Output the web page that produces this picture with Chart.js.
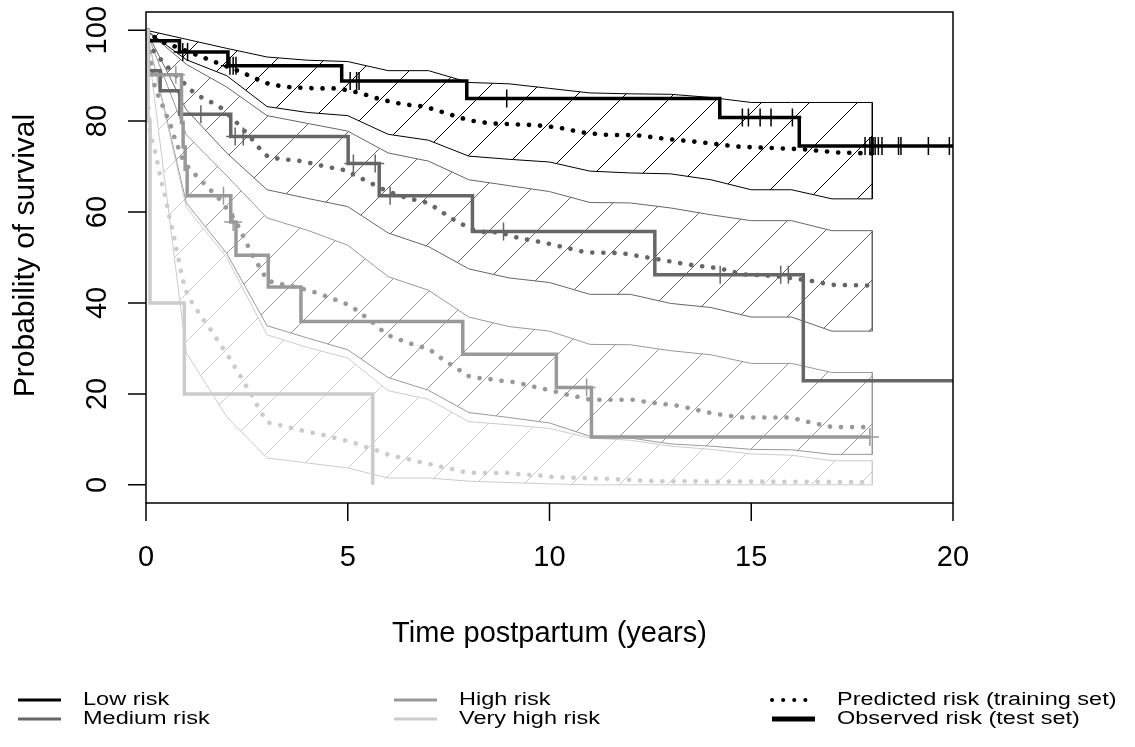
<!DOCTYPE html>
<html><head><meta charset="utf-8">
<script src="https://cdn.jsdelivr.net/npm/chart.js@4.4.1/dist/chart.umd.min.js"></script>
<style>html,body{margin:0;padding:0;background:#fff;}canvas{display:block;}</style>
</head><body>
<canvas id="c" width="1135" height="747"></canvas>
<script>
// ---------- tick labels / titles ----------
const xTicks = [0, 5, 10, 15, 20];
const yTicks = [0, 20, 40, 60, 80, 100];
const xTitle = 'Time postpartum (years)';
const yTitle = 'Probability of survival';
const groupNames = ['Low risk', 'Medium risk', 'High risk', 'Very high risk'];
const typeNames = ['Predicted risk (training set)', 'Observed risk (test set)'];

// ---------- confidence bands (training set) ----------
const bandTimes = [0,1,2,3,4,5,6,7,8,9,10,11,12,13,14,15,16,17,18];
const lowUpper  = [100,98,96,94.1,93.4,93.1,91.1,91.1,88.5,88.2,87.2,86.2,86.0,85.9,85.2,84.1,84.1,84.1,84.1];
const lowLower  = [100,93.5,90,83.2,81.9,81.2,77.1,75.8,72.3,71.6,71.0,69.0,68.6,68.4,67.1,64.9,64.9,62.9,62.9];
const medUpper  = [100,92.5,87.5,81.2,79.5,77.8,73.0,71.2,67.1,65.8,64.5,62.1,62.0,60.9,59.4,58.1,58.1,55.9,55.9];
const medLower  = [100,82.5,73,64.9,63.0,61.2,55.4,52.4,47.5,45.5,44.5,41.9,41.9,39.9,39.0,36.9,36.9,33.8,33.8];
const highUpper = [100,77,68,58.7,56,52.7,45.8,42.8,36.9,34.8,33.8,30.9,30.8,29.5,28.6,26.7,26.7,24.7,24.7];
const highLower = [100,62,50.9,35,32.3,29.7,23.6,20.8,15.9,14.8,13.6,10.7,10.3,9.0,8.5,7.8,7.7,6.7,6.7];
const vhUpper   = [100,61,50,33,30.2,27.9,20.7,18.8,13.9,13.2,12.4,10.3,9.8,8.5,7.8,6.8,6.5,5.3,5.3];
const vhLower   = [100,29,15,5.9,4.8,3.7,1.5,1.5,0.8,0.5,0.2,0,0,0,0,0,0,0,0];

// ---------- predicted survival (training set) [time, %] ----------
const lowPred = [[0,100],[0.26,98.1],[0.51,97.0],[0.76,96.3],[1.3,94.4],[1.83,92.6],[2.33,90.9],[2.83,88.9],[3.11,88.0],[3.65,87.4],[4.23,87.2],[4.77,87.2],[5.3,86.2],[5.84,84.7],[6.38,83.7],[6.91,83.2],[7.45,81.7],[7.99,80.2],[8.53,79.5],[9.1,79.3],[9.68,79.1],[10.22,78.6],[10.76,77.6],[11.33,77.0],[12.16,76.9],[12.99,76.0],[13.81,75.3],[14.64,74.4],[15.46,74.1],[16.29,73.8],[17.12,73.1],[18,72.9]];
const medPred = [[0,100],[0.18,95.5],[0.39,93.3],[0.58,91.5],[1.13,86.7],[1.38,85.2],[1.63,84.1],[1.88,82.8],[2.29,79.3],[2.67,75.6],[2.83,73.8],[3.03,72.1],[3.32,71.7],[3.86,71.2],[4.40,70.1],[4.93,69.2],[5.47,66.8],[5.97,64.6],[6.46,63.1],[7.0,62.0],[7.25,60.5],[7.70,57.9],[8.2,55.7],[8.77,55.5],[9.27,54.2],[9.85,53.3],[10.38,52.2],[10.92,51.1],[11.75,51.0],[12.57,49.8],[13.4,48.5],[14.22,47.6],[14.8,46.3],[15.63,45.9],[16.46,44.9],[16.99,44.0],[18,43.8]];
const highPred = [[0,100],[0.22,87.4],[0.43,83.0],[0.63,78.6],[0.72,76.0],[0.93,71.2],[1.09,69.4],[1.30,67.5],[1.49,65.8],[1.67,64.2],[1.88,62.3],[2.02,60.5],[2.21,58.3],[2.45,53.9],[2.70,49.4],[2.87,47.2],[2.99,45.0],[3.24,44.3],[3.53,43.9],[4.06,42.7],[4.34,41.9],[4.60,41.0],[4.87,40.2],[5.11,39.1],[5.33,37.7],[5.55,36.2],[5.76,34.6],[5.98,33.0],[6.24,32.1],[6.5,31.2],[6.78,30.5],[7.04,29.7],[7.26,28.2],[7.49,26.8],[7.73,25.5],[7.95,24.0],[8.22,23.5],[8.5,23.3],[8.77,22.9],[9.05,22.7],[9.33,22.2],[9.6,21.6],[9.86,21.1],[10.14,20.5],[10.41,19.9],[10.67,19.4],[10.96,18.8],[11.23,18.7],[12.08,18.7],[12.35,18.3],[12.62,18.0],[12.9,17.7],[13.18,17.4],[13.45,16.9],[13.73,16.3],[14.0,15.8],[14.27,15.4],[14.54,15.1],[14.82,14.8],[15.94,14.8],[16.21,14.3],[16.47,13.7],[16.74,13.2],[17.01,12.7],[18,12.7]];
const vhPred = [[0,100],[0.03,90],[0.06,83],[0.1,77.1],[0.18,74.9],[0.25,72.5],[0.30,70.1],[0.36,67.5],[0.43,64.9],[0.50,62.7],[0.55,60.1],[0.61,57.7],[0.68,55.4],[0.73,52.8],[0.8,50.0],[0.84,48.1],[0.90,45.6],[0.97,43.2],[1.07,41.0],[1.23,38.9],[1.38,36.8],[1.55,34.8],[1.71,32.7],[1.86,30.6],[2.02,28.6],[2.17,26.4],[2.32,24.2],[2.45,22.2],[2.60,20.1],[2.73,17.9],[2.87,15.7],[3.02,13.7],[3.28,13.2],[3.56,12.6],[3.84,12.0],[4.11,11.5],[4.38,11.0],[4.64,10.4],[4.92,9.8],[5.2,9.1],[5.45,8.3],[5.72,7.6],[5.98,6.7],[6.25,6.1],[6.53,5.6],[6.79,5.0],[7.06,4.5],[7.34,3.9],[7.62,3.4],[7.89,2.8],[8.17,2.6],[9.0,2.6],[9.27,2.3],[9.82,2.0],[10.1,1.7],[11.5,1.3],[12.6,0.8],[18,0.6]];

// ---------- observed Kaplan-Meier (test set) ----------
const lowObsT  = [0, 0.05, 0.83, 2.03, 4.85, 7.95, 14.22, 16.19, 20];
const lowObsV  = [100, 97.7, 95.2, 92.2, 88.8, 85.0, 80.8, 74.5, 74.5];
const medObsT  = [0, 0.05, 0.35, 0.84, 2.10, 5.01, 5.78, 8.09, 12.61, 16.29, 20];
const medObsV  = [100, 91.1, 86.7, 81.5, 76.6, 70.7, 63.6, 55.7, 46.2, 22.9, 22.9];
const highObsT = [0, 0.05, 0.88, 0.92, 0.97, 1.02, 2.10, 2.23, 3.03, 3.84, 7.85, 10.17, 11.04, 17.94];
const highObsV = [100, 90.2, 79.7, 74.3, 69.4, 63.6, 57.8, 50.5, 43.5, 35.9, 28.7, 21.4, 10.5, 10.5];
const vhObsT   = [0, 0.05, 0.1, 0.95, 5.62];
const vhObsV   = [100, 80, 40, 20, 0];

// ---------- censored observations ----------
const lowCensT  = [0.91,1.03,2.08,2.16,2.23,5.06,5.22,5.28,8.94,14.78,14.93,15.22,15.49,16.02,17.82,17.94,17.98,18.02,18.07,18.15,18.24,18.65,18.71,19.39,19.91];
const lowCensV  = [95.2,95.2,92.2,92.2,92.2,88.8,88.8,88.8,85.0,80.8,80.8,80.8,80.8,80.8,74.5,74.5,74.5,74.5,74.5,74.5,74.5,74.5,74.5,74.5,74.5];
const medCensT  = [1.36,2.21,2.41,5.14,5.68,6.05,8.86,14.23,15.73,15.92];
const medCensV  = [81.5,76.6,76.6,70.7,70.7,63.6,55.7,46.2,46.2,46.2];
const highCensT = [0.74,1.92,2.16,10.92,17.94];
const highCensV = [90.2,63.6,57.8,21.4,10.5];

const colors = ['#000000', '#666666', '#999999', '#cccccc'];

// ---------- helpers ----------
const pts = (ts, vs) => ts.map((t, i) => ({x: t, y: vs[i]}));
const pairPts = arr => arr.map(p => ({x: p[0], y: p[1]}));
function polygon(ts, up, lo) {
  const a = ts.map((t, i) => ({x: t, y: up[i]}));
  for (let i = ts.length - 1; i >= 0; i--) a.push({x: ts[i], y: lo[i]});
  return a;
}
function hatch(color) {
  const s = 48;
  const c = document.createElement('canvas');
  c.width = s; c.height = s;
  const g = c.getContext('2d');
  g.strokeStyle = color; g.lineWidth = 1;
  g.beginPath();
  g.moveTo(0, s); g.lineTo(s, 0);
  g.moveTo(-2, 2); g.lineTo(2, -2);
  g.moveTo(s - 2, s + 2); g.lineTo(s + 2, s - 2);
  g.stroke();
  return g.createPattern(c, 'repeat');
}

const bands = [[lowUpper, lowLower], [medUpper, medLower], [highUpper, highLower], [vhUpper, vhLower]];
const preds = [lowPred, medPred, highPred, vhPred];
const obs = [[lowObsT, lowObsV], [medObsT, medObsV], [highObsT, highObsV], [vhObsT, vhObsV]];
const cens = [[lowCensT, lowCensV], [medCensT, medCensV], [highCensT, highCensV]];

const datasets = [];
bands.forEach((b, i) => datasets.push({
  data: polygon(bandTimes, b[0], b[1]), showLine: true, pointRadius: 0,
  borderColor: colors[i], borderWidth: 1, fill: 'shape', backgroundColor: hatch(colors[i]),
  order: 20 - i
}));
preds.forEach((p, i) => datasets.push({
  data: pairPts(p), showLine: true, pointRadius: 0, fill: false,
  borderColor: colors[i], borderWidth: 4.6, borderDash: [0.1, 11], borderCapStyle: 'round',
  order: 10 - i
}));
obs.forEach((o, i) => datasets.push({
  data: pts(o[0], o[1]), showLine: true, stepped: true, pointRadius: 0, fill: false,
  borderColor: colors[i], borderWidth: 3.5, borderJoinStyle: 'miter', borderCapStyle: 'butt',
  order: 6 - i * 0.1
}));
cens.forEach((c, i) => datasets.push({
  data: pts(c[0], c[1]), showLine: false, pointStyle: 'cross', pointRadius: 9,
  pointBorderWidth: 1.5, pointBorderColor: colors[i], pointBackgroundColor: colors[i],
  order: 1
}));

const FONT = '"Liberation Sans", Arial, Helvetica, sans-serif';

const axesPlugin = {
  id: 'rAxes',
  afterDraw(chart) {
    const ctx = chart.ctx, xs = chart.scales.x, ys = chart.scales.y, a = chart.chartArea;
    ctx.save();
    ctx.strokeStyle = '#000'; ctx.fillStyle = '#000'; ctx.lineWidth = 1.5;
    ctx.strokeRect(a.left, a.top, a.right - a.left, a.bottom - a.top);
    // x axis
    ctx.beginPath();
    xTicks.forEach(v => { const x = xs.getPixelForValue(v); ctx.moveTo(x, a.bottom); ctx.lineTo(x, a.bottom + 18); });
    ctx.stroke();
    ctx.font = '29px ' + FONT; ctx.textAlign = 'center'; ctx.textBaseline = 'middle';
    xTicks.forEach(v => ctx.fillText(String(v), xs.getPixelForValue(v), 558));
    ctx.fillText(xTitle, (a.left + a.right) / 2, 634);
    // y axis
    ctx.beginPath();
    yTicks.forEach(v => { const y = ys.getPixelForValue(v); ctx.moveTo(a.left, y); ctx.lineTo(a.left - 18, y); });
    ctx.stroke();
    yTicks.forEach(v => {
      ctx.save(); ctx.translate(98, ys.getPixelForValue(v)); ctx.rotate(-Math.PI / 2);
      ctx.fillText(String(v), 0, 0); ctx.restore();
    });
    ctx.font = '30px ' + FONT;
    ctx.save(); ctx.translate(26, (a.top + a.bottom) / 2 - 2); ctx.rotate(-Math.PI / 2);
    ctx.fillText(yTitle, 0, 0); ctx.restore();
    // legend
    const colX = [83, 459, 837], rowY = [700, 719];
    const items = [
      {c: 0, r: 0, text: groupNames[0], color: colors[0], w: 3},
      {c: 0, r: 1, text: groupNames[1], color: colors[1], w: 3},
      {c: 1, r: 0, text: groupNames[2], color: colors[2], w: 3},
      {c: 1, r: 1, text: groupNames[3], color: colors[3], w: 3},
      {c: 2, r: 0, text: typeNames[0], color: '#000', w: 4, dot: true},
      {c: 2, r: 1, text: typeNames[1], color: '#000', w: 5}
    ];
    ctx.font = '23.5px ' + FONT; ctx.textAlign = 'left';
    items.forEach(it => {
      const tx = colX[it.c], y = rowY[it.r];
      ctx.beginPath(); ctx.strokeStyle = it.color; ctx.lineWidth = it.w;
      if (it.dot) { ctx.setLineDash([0.1, 11]); ctx.lineCap = 'round'; } else { ctx.setLineDash([]); ctx.lineCap = 'butt'; }
      ctx.moveTo(tx - 65, y); ctx.lineTo(tx - 22, y); ctx.stroke();
      ctx.setLineDash([]);
      ctx.save(); ctx.translate(tx, y); ctx.scale(1, 0.8);
      ctx.fillStyle = '#000'; ctx.fillText(it.text, 0, 0);
      ctx.restore();
    });
    ctx.restore();
  }
};

new Chart(document.getElementById('c'), {
  type: 'scatter',
  data: {datasets},
  options: {
    responsive: false, animation: false, devicePixelRatio: 1, events: [],
    layout: {padding: {left: 146, right: 182, top: 12, bottom: 244}},
    plugins: {legend: {display: false}, tooltip: {enabled: false}},
    elements: {line: {tension: 0}},
    scales: {
      x: {type: 'linear', min: 0, max: 20, display: false},
      y: {type: 'linear', min: -4, max: 104, display: false}
    }
  },
  plugins: [axesPlugin]
});
</script>
</body></html>
